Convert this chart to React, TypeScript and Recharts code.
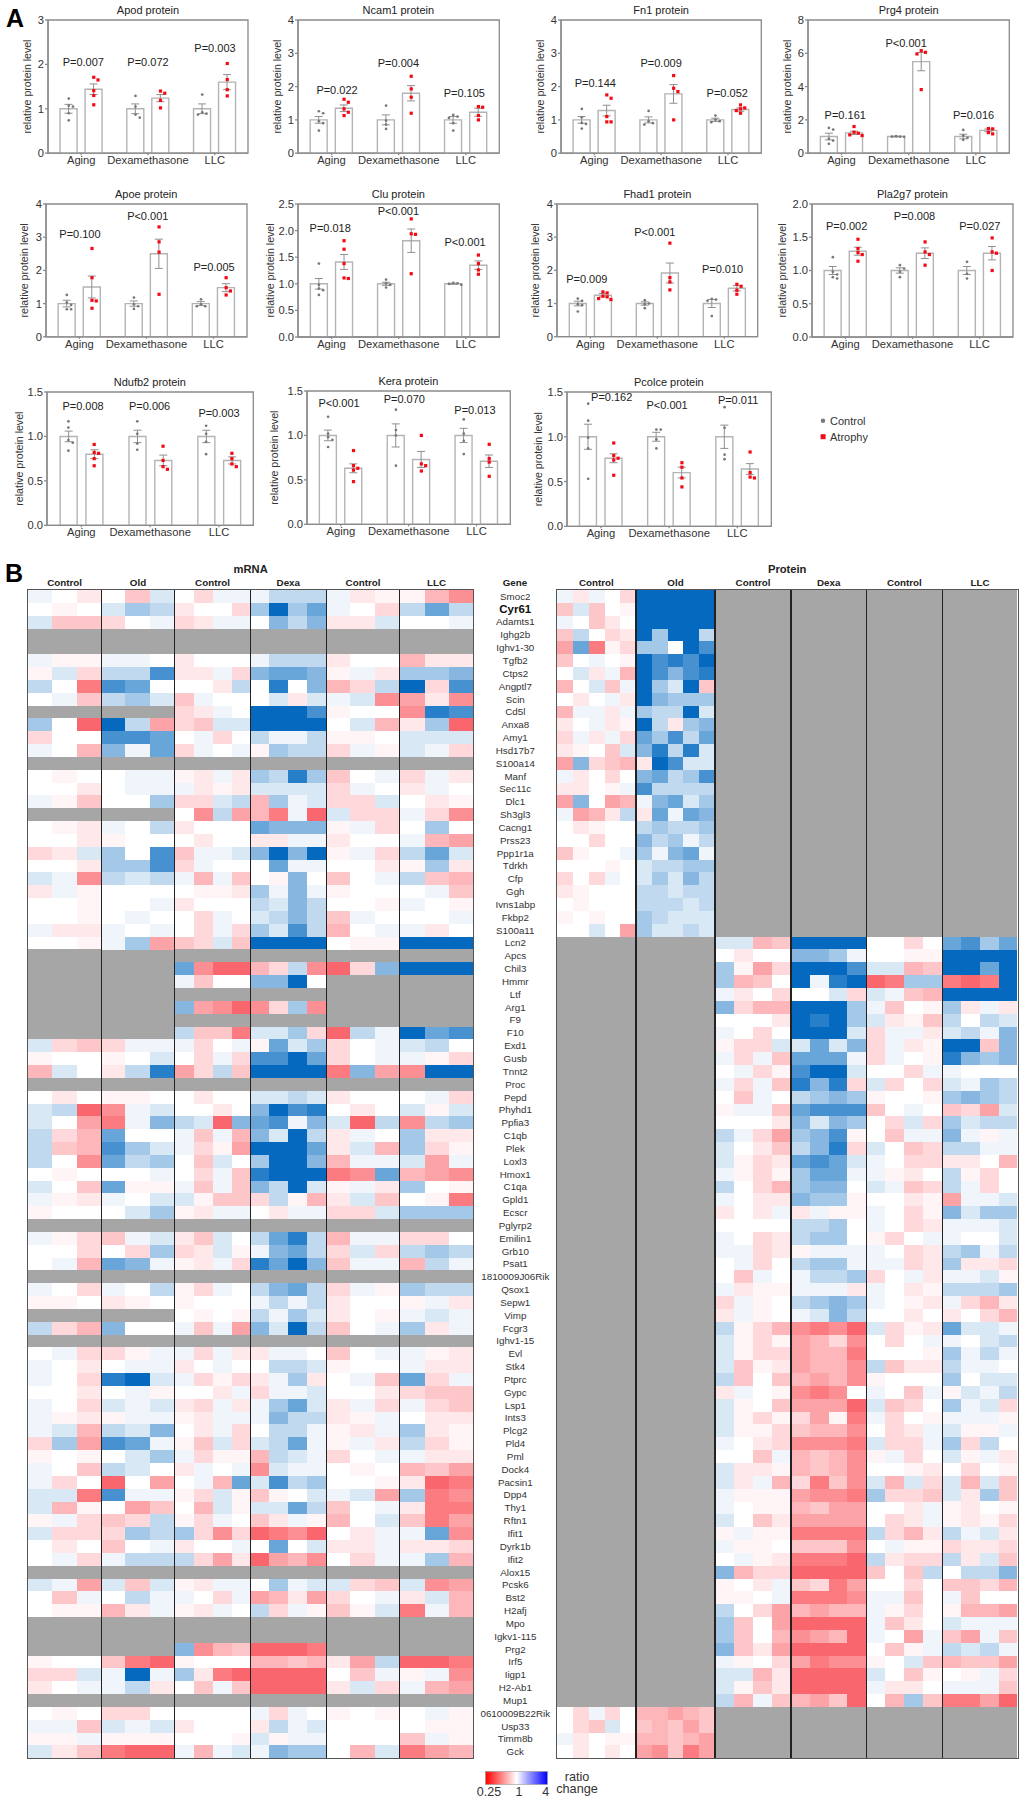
import React from "react";
import { ComposedChart, BarChart, Bar, Cell, Scatter, ErrorBar, XAxis, YAxis, ReferenceArea, ReferenceDot, Rectangle } from "recharts";

const FONT = "'Liberation Sans', Arial, sans-serif";
const groupNames = ["Aging", "Dexamethasone", "LLC"];

// ---- panel A values: [aging control, aging atrophy, dexa control, dexa atrophy, LLC control, LLC atrophy]
const apodMeans = [1, 1.44, 1, 1.24, 1, 1.6];
const apodErrs = [0.1, 0.12, 0.11, 0.08, 0.11, 0.17];
const apodPoints = [[1.23, 1.07, 1.05, 0.9, 0.74], [1.71, 1.65, 1.41, 1.3, 1.09], [1.29, 1.05, 0.87, 0.8], [1.4, 1.35, 1.19, 1.02], [1.32, 0.92, 0.87, 0.89], [2.02, 1.66, 1.43, 1.29]];
const apodP = [["P=0.007", 1.41, 2.06], ["P=0.072", 4.0, 2.05], ["P=0.003", 6.68, 2.37]];

const ncam1Means = [1, 1.35, 1, 1.8, 1, 1.23];
const ncam1Errs = [0.1, 0.1, 0.15, 0.23, 0.1, 0.12];
const ncam1Points = [[1.26, 1.2, 0.96, 0.9, 0.68], [1.62, 1.53, 1.33, 1.23, 1.13], [1.43, 0.98, 0.86, 0.73], [2.31, 1.93, 1.68, 1.2], [1.15, 1.1, 1.06, 0.9, 0.68], [1.4, 1.38, 1.13, 1.0]];
const ncam1P = [["P=0.022", 1.55, 1.88], ["P=0.004", 3.99, 2.72], ["P=0.105", 6.61, 1.8]];

const fn1Means = [1, 1.28, 1, 1.78, 1, 1.31];
const fn1Errs = [0.1, 0.16, 0.09, 0.28, 0.05, 0.05];
const fn1Points = [[1.33, 1.08, 0.91, 0.88, 0.74], [1.75, 1.65, 1.1, 0.94, 0.94], [1.27, 0.96, 0.9, 0.86], [2.33, 1.95, 1.85, 1.0], [1.13, 1.01, 0.96, 0.93], [1.45, 1.36, 1.33, 1.28, 1.2]];
const fn1P = [["P=0.144", 1.37, 2.11], ["P=0.009", 4.0, 2.72], ["P=0.052", 6.64, 1.8]];

const prg4Means = [1, 1.22, 1, 5.5, 1, 1.37];
const prg4Errs = [0.2, 0.1, 0.02, 0.55, 0.14, 0.08];
const prg4Points = [[1.52, 1.42, 0.86, 0.76, 0.56], [1.6, 1.26, 1.2, 1.1, 1.06], [1, 1, 0.98, 1.02], [6.16, 6.06, 5.96, 3.82], [1.4, 1.06, 0.92, 0.8], [1.48, 1.46, 1.24, 1.16]];
const prg4P = [["P=0.161", 1.48, 2.3], ["P<0.001", 3.9, 6.62], ["P=0.016", 6.58, 2.3]];

const apoeMeans = [1, 1.5, 1, 2.5, 1, 1.48];
const apoeErrs = [0.1, 0.33, 0.08, 0.44, 0.06, 0.12];
const apoePoints = [[1.26, 1.03, 0.96, 0.83, 0.83], [2.66, 1.78, 1.1, 1.08, 0.86], [1.18, 0.98, 0.92, 0.84], [3.31, 2.86, 2.55, 1.28], [1.13, 0.98, 0.92, 0.92], [1.78, 1.48, 1.38, 1.26]];
const apoeP = [["P=0.100", 1.35, 3.08], ["P<0.001", 4.05, 3.63], ["P=0.005", 6.69, 2.1]];

const cluMeans = [1, 1.41, 1, 1.81, 1, 1.35];
const cluErrs = [0.1, 0.14, 0.03, 0.22, 0.01, 0.08];
const cluPoints = [[1.38, 0.98, 0.91, 0.88, 0.79], [1.81, 1.65, 1.38, 1.11, 1.1], [1.08, 1.01, 0.98, 0.93], [2.22, 1.94, 1.93, 1.19], [1.01, 1.0, 0.98, 1.02], [1.54, 1.38, 1.26, 1.18]];
const cluP = [["P=0.018", 1.28, 2.05], ["P<0.001", 3.99, 2.37], ["P<0.001", 6.64, 1.78]];

const fhad1Means = [1, 1.25, 1, 1.92, 1, 1.46];
const fhad1Errs = [0.07, 0.05, 0.05, 0.3, 0.12, 0.08];
const fhad1Points = [[1.15, 1.08, 0.98, 0.95, 0.76], [1.35, 1.32, 1.22, 1.2, 1.15, 1.12], [1.1, 1, 0.98, 0.86], [2.82, 1.78, 1.65, 1.41], [1.14, 1.12, 1.08, 0.62], [1.58, 1.52, 1.4, 1.28]];
const fhad1P = [["P=0.009", 1.19, 1.75], ["P<0.001", 3.9, 3.15], ["P=0.010", 6.6, 2.03]];

const pla2g7Means = [1, 1.29, 1, 1.26, 1, 1.26];
const pla2g7Errs = [0.06, 0.06, 0.04, 0.08, 0.06, 0.1];
const pla2g7Points = [[1.2, 0.98, 0.94, 0.9, 0.88], [1.47, 1.33, 1.27, 1.24, 1.14], [1.08, 1.03, 0.98, 0.9], [1.43, 1.28, 1.24, 1.08], [1.13, 0.95, 0.88], [1.49, 1.28, 1.26, 1.0]];
const pla2g7P = [["P=0.002", 1.38, 1.67], ["P=0.008", 4.08, 1.82], ["P=0.027", 6.68, 1.67]];

const ndufb2Means = [1, 0.8, 1, 0.73, 1, 0.73];
const ndufb2Errs = [0.06, 0.05, 0.07, 0.06, 0.07, 0.04];
const ndufb2Points = [[1.17, 1.1, 0.96, 0.93, 0.84], [0.91, 0.82, 0.81, 0.75, 0.67], [1.17, 1.03, 0.92, 0.85], [0.89, 0.73, 0.66, 0.63], [1.12, 1.03, 0.94, 0.8], [0.81, 0.75, 0.69, 0.66]];
const ndufb2P = [["P=0.008", 1.4, 1.34], ["P=0.006", 3.98, 1.34], ["P=0.003", 6.67, 1.26]];

const keraMeans = [1, 0.63, 1, 0.73, 1, 0.71];
const keraErrs = [0.06, 0.05, 0.13, 0.09, 0.08, 0.07];
const keraPoints = [[1.21, 1.02, 0.98, 0.95, 0.87], [0.83, 0.66, 0.63, 0.61, 0.48], [1.29, 1.06, 1, 0.66], [1.0, 0.68, 0.66, 0.6], [1.18, 1.02, 0.94, 0.79], [0.9, 0.74, 0.7, 0.54]];
const keraP = [["P<0.001", 1.26, 1.36], ["P=0.070", 3.83, 1.41], ["P=0.013", 6.61, 1.28]];

const pcolceMeans = [1, 0.76, 1, 0.6, 1, 0.64];
const pcolceErrs = [0.14, 0.05, 0.05, 0.06, 0.13, 0.06];
const pcolcePoints = [[1.37, 1.18, 0.99, 0.87, 0.53], [0.93, 0.79, 0.76, 0.74, 0.57], [1.08, 1.08, 0.97, 0.87], [0.71, 0.66, 0.54, 0.44], [1.33, 1.1, 0.8, 0.75], [0.83, 0.6, 0.55, 0.54]];
const pcolceP = [["P=0.162", 1.75, 1.44], ["P<0.001", 3.92, 1.35], ["P=0.011", 6.7, 1.41]];

const panels = [
  { title: "Apod protein", means: apodMeans, errs: apodErrs, points: apodPoints, p: apodP, ticks: [0, 1, 2, 3], L: 48, R: 248, T: 19.5, B: 152.7, lab: 20 },
  { title: "Ncam1 protein", means: ncam1Means, errs: ncam1Errs, points: ncam1Points, p: ncam1P, ticks: [0, 1, 2, 3, 4], L: 297.7, R: 499, T: 19.5, B: 152.7, lab: 19.5 },
  { title: "Fn1 protein", means: fn1Means, errs: fn1Errs, points: fn1Points, p: fn1P, ticks: [0, 1, 2, 3, 4], L: 561, R: 761.3, T: 19.5, B: 152.7, lab: 20 },
  { title: "Prg4 protein", means: prg4Means, errs: prg4Errs, points: prg4Points, p: prg4P, ticks: [0, 2, 4, 6, 8], L: 808, R: 1009.3, T: 19.5, B: 152.7, lab: 20 },
  { title: "Apoe protein", means: apoeMeans, errs: apoeErrs, points: apoePoints, p: apoeP, ticks: [0, 1, 2, 3, 4], L: 45.7, R: 246.7, T: 203.5, B: 336.3, lab: 20.7 },
  { title: "Clu protein", means: cluMeans, errs: cluErrs, points: cluPoints, p: cluP, ticks: [0, 0.5, 1, 1.5, 2, 2.5], L: 297.7, R: 499, T: 204, B: 337, lab: 27 },
  { title: "Fhad1 protein", means: fhad1Means, errs: fhad1Errs, points: fhad1Points, p: fhad1P, ticks: [0, 1, 2, 3, 4], L: 557, R: 757.7, T: 204, B: 336.7, lab: 20.7 },
  { title: "Pla2g7 protein", means: pla2g7Means, errs: pla2g7Errs, points: pla2g7Points, p: pla2g7P, ticks: [0, 0.5, 1, 1.5, 2], L: 812, R: 1013, T: 204, B: 337, lab: 29 },
  { title: "Ndufb2 protein", means: ndufb2Means, errs: ndufb2Errs, points: ndufb2Points, p: ndufb2P, ticks: [0, 0.5, 1, 1.5], L: 46.7, R: 253, T: 391.7, B: 525, lab: 26.7 },
  { title: "Kera protein", means: keraMeans, errs: keraErrs, points: keraPoints, p: keraP, ticks: [0, 0.5, 1, 1.5], L: 306.7, R: 510, T: 390.7, B: 524, lab: 31.7 },
  { title: "Pcolce protein", means: pcolceMeans, errs: pcolceErrs, points: pcolcePoints, p: pcolceP, ticks: [0, 0.5, 1, 1.5], L: 566.7, R: 771, T: 391.7, B: 526, lab: 28 },
];

// ---- panel B
const genes = ["Smoc2","Cyr61","Adamts1","Ighg2b","Ighv1-30","Tgfb2","Ctps2","Angptl7","Scin","Cd5l","Anxa8","Amy1","Hsd17b7","S100a14","Manf","Sec11c","Dlc1","Sh3gl3","Cacng1","Prss23","Ppp1r1a","Tdrkh","Cfp","Ggh","Ivns1abp","Fkbp2","S100a11","Lcn2","Apcs","Chil3","Hmmr","Ltf","Arg1","F9","F10","Exd1","Gusb","Tnnt2","Proc","Pepd","Phyhd1","Ppfia3","C1qb","Plek","Loxl3","Hmox1","C1qa","Gpld1","Ecscr","Pglyrp2","Emilin1","Grb10","Psat1","1810009J06Rik","Qsox1","Sepw1","Vimp","Fcgr3","Ighv1-15","Evl","Stk4","Ptprc","Gypc","Lsp1","Ints3","Plcg2","Pld4","Pml","Dock4","Pacsin1","Dpp4","Thy1","Rftn1","Ifit1","Dyrk1b","Ifit2","Alox15","Pcsk6","Bst2","H2afj","Mpo","Igkv1-115","Prg2","Irf5","Iigp1","H2-Ab1","Mup1","0610009B22Rik","Usp33","Timm8b","Gck"];

// one string per gene, one token per sample group. digits 1-9 = rising blue, a-i = rising red, 0 = white, "-" = no data
const mrnaRows = [
"10b 0d2 0c11 1333 1ba aeg","0a0 243 b00c 4946 10c 363","2dd c01 cb11 0535 bb2 001","- - - - - -","- - - - - -",
"1aa 110 b000 1333 b00 ebb","a2c 337 bb1c 5665 a1b 445","30h 760 00b3 0805 ec3 9c7","01d 342 d100 02b2 12g fbg","- - cb10 9997 a00 g87",
"40i 93f cd22 9999 02e b4i","c00 776 01c0 3113 aa0 222","10e 516 c101 a433 c1a 21c","- - - - - -","0a0 011 ab1b 4384 d01 c1b",
"00b 011 1bab 2222 c10 b10","1ad 004 cc23 e412 cc2 0ba","- - 0g3f eh1i 2cc 1cg","0ab 103 b000 6555 a1c 040","00b a00 0b00 bb11 b00 1ef",
"cb2 407 d112 5959 a1c 362","00b 447 c100 0611 00b a4b","21g 323 1e1d 0a50 d01 3de","b1a 000 0aab 4151 a00 01d","00a 001 b000 3253 00a 10a",
"00a 010 0c10 2353 d10 001","1bb 101 0c1c 4273 e01 1b0","00a 14f dc2d 9999 0aa 999","- - - - - -","- - 6gii ec3g ic5 999",
"- - 1d00 5590 - -","- - - - - -","- - 5fgi gc4g - -","- - - - - -","- - 3ddh 224c i31 967",
"2cd c11 1c01 a624 c01 230","a00 a02 0c1c 7796 c01 1ac","e20 b38 fc3d 9999 h5f g99","- - - - - -","0b0 aa0 0b00 2232 b00 01c",
"23i g12 00b0 5978 0b0 2a2","20f h15 32i5 6715 2i3 g34","3ce 600 1d1e 5293 b10 4bb","3de 742 1caf 9996 b2e 4ca","30g 634 0d20 4995 e11 2f1",
"0a0 001 0c1d 8999 hg6 efg","20d 6aa 1d1d 5392 a1b 40a","1ab 102 2add c3ae b2d 0ah","a00 024 ab11 0b11 cc2 444","- - - - - -",
"1ac d12 bd20 3683 e11 cc0","00c 0c4 cb2a 1563 c2c 343","01e 651 ab1c 8695 d11 e31","- - - - - -","10c 103 ac10 3563 c1a 433",
"aa0 ba0 a000 1313 b00 a1b","- - 0a0a 3142 b0a 121","3ce 500 1d1f 5293 d01 4b1","- - - - - -","01c ca1 1c1b b110 d01 1ab",
"10b 011 b010 0332 a00 1bb","10c 892 1cac b14b 01d 6c1","00b 01a 00b1 c112 00b cdd","10c 212 bc1b 1462 b1c 1cd","1ab a11 ab11 1533 ba1 0bb",
"12e 325 0b1c 0331 ab1 4ba","c4f 761 ad2c 2361 a1b 3ca","a0a 024 1caa e321 c01 1bb","10d 320 b101 g211 0a0 edf","1c0 i0f 01e6 2734 00a bih",
"22h 711 ac2a da02 12f 4hg","2ea 0fd 0e2a 2263 d01 bhh","a1c dc3 ac10 db1a e02 dhf","2cc c43 4cgc ihgi 0b1 16g","0b0 d01 b001 0602 bb1 bbc",
"01c 133 3cfb ifeg 0c1 14e","- - - - - -","21f 2d2 ab11 0412 2cd 2gf","0d1 031 10c1 febf c01 b2e","0aa eb1 ab10 3c1a da2 h1e",
"- - - - - -","- - - - - -","- - 5ged iiih - -","a00 dhi a000 eede bf3 iih","cc2 191 4bhi iiii 0d1 a1g",
"b01 13b 0d1d iiii b2c 1ef","- - - - - -","0a0 cc0 0000 1c10 a0a 01a","11d 212 b000 b312 000 0aa","aa1 aaa 000a 2a11 000 d1a","2bd hii 1e12 1544 0e2 hfe",
];

const proteinRows = [
"1b10c 99999 - - - -","d2d0a 99999 - - - -","10db0 99999 - - - -","d30cb 94993 - - - -","f6hac 44097 - - - -",
"d010a 97879 - - - -","02b1e 97578 - - - -","e02d1 9429d - - - -","0b01b 95444 - - - -","e11b1 43392 - - - -",
"b01ba 93b45 - - - -","c1b1c 64736 - - - -","ba0d2 58382 - - - -","f5cde b9722 - - - -","1b0c0 56347 - - - -",
"bb0a1 73333 - - - -","f50fe 15624 - - - -","1feb3 b6165 - - - -","0ba00 34334 - - - -","00c00 53413 - - - -",
"da001 41561 - - - -","000a0 23344 - - - -","c0c10 24253 - - - -","ba000 33233 - - - -","0a000 33323 - - - -",
"a0a00 43222 - - - -","0020f 42232 - - - -","- - 22ed 9999 00c0 6746","- - 0b00 5541 00aa 9999","- - 4afc 9997 22ed 9969",
"- - 4ed0 9189 ih44 hih9","- - 1b0c 002c 21de 9999","- - 5cee 9994 1d0a 4b1b","- - 000b 9894 2bad 3032","- - 10c0 9992 c11b 2315",
"- - acc2 2625 c1ba 99d5","- - 1c1d 6661 c10a 8545","- - 01ca 7992 00c1 1000","- - 1c1d 858c 2c0c 2143","- - 0d10 3454 a00a 4543",
"- - a11d 6777 d010 dcf2","- - 000b 5254 0c2c 4233","- - 31cf 457a 0d11 51a1","- - 20bd 358c 20dc 3311","- - 2acb 6762 10cc bb0e",
"- - 1aca 4661 1ab0 3ac0","- - 30ce 4550 21dc 31c0","- - 10bb 544a 00ba f112","- - b0b1 b1aa 10ca 5244","- - 0000 3340 10cb 1112",
"- - 10cb 3440 ac01 1002","- - 11cb a111 10cb 3413","- - 01c0 3441 11cb 4bbc","- - 0d10 1334 c01b 112a","- - 1baa 111b 10ba 3334",
"- - c1a0 3454 10ab 1ceb","- - b1a0 1253 00b0 b0ce","- - 3ace ghgi 2cab 6221","- - 2aca fecg 0c01 1023","- - 2acc feeh 000a 4131",
"- - 2dab feeg 3dbb 3110","- - 3d0d efeg a000 4022","- - b10a ghg0 10d1 a213","- - 2a0d fffi 2dc0 412c","- - 2aca cfah 1c0a 111a",
"- - 2aac deeg 0cb1 2aa1","- - 10bc gggh 2cc1 4c30","- - 00d1 edeg a1c0 2a1b","- - 2bba edeg 00ab 0c0a","- - 2b1e chdg 2e2c 2e2d",
"- - 1aaa fggh 4ccd 2b4d","- - 10aa edff 00b1 ab0a","- - 20db ffff 0cb1 abac","- - a1aa hhhh 3ceb 312b","- - 1aa0 dddg 01aa cbbc",
"- - 01ab hhhi 3bcc 3b2d","- - 5ecc iiii d0d3 0335","- - a0b1 dchf 00c0 ddce","- - aa01 hhhg 11d0 1d00","- - 30cf efee 1ac0 aeef",
"- - 4d0f iiii 1db0 2111","- - 4d0e gfei 10f1 df1d","- - 5dbf iiii 0da1 3231","- - 1a0c fhgg a02d eddf","- - 22eb iiii 20da 0a1c",
"- - 2adb iiii 1bb0 111d","- - 3e1d efdi 0e4d hhfi","0c1c0 eefed - - - -","0cd20 dedfd - - - -","1b0aa eedef - - - -","0b0b0 fgdhf - - - -",
];

const panelGroups = {
  mrna: { names: ["Control", "Old", "Control", "Dexa", "Control", "LLC"], cols: [3, 3, 4, 4, 3, 3], edges: [28, 101.3, 174.7, 250.3, 326.3, 399.7, 473.3] },
  protein: { names: ["Control", "Old", "Control", "Dexa", "Control", "LLC"], cols: [5, 5, 4, 4, 4, 4], edges: [556.7, 636, 715, 791, 866.3, 942.3, 1017.7] },
};
const HEAT_TOP = 590;
const HEAT_BOTTOM = 1758.3;

const charLevel = (ch: string): number => {
  if (ch >= "0" && ch <= "9") return Number(ch) / 9;
  return -(ch.charCodeAt(0) - 96) / 9;
};
const mix = (a: number[], t: number) => `rgb(${a.map((c) => Math.round(255 + (c - 255) * t)).join(",")})`;
const heatColor = (v: number | null) => {
  if (v === null) return "#A6A6A6";
  const t = Math.pow(Math.abs(v), 1.25);
  return v >= 0 ? mix([5, 105, 192], t) : mix([250, 102, 109], t);
};
const parseGroup = (rows: string[], g: number, n: number): (number | null)[][] =>
  rows.map((r) => {
    const tok = r.split(" ")[g];
    return tok === "-" ? Array(n).fill(null) : tok.split("").map(charLevel);
  });

const Txt = ({ x, y, s, b, c = "#222", children, a = "center" }: any) => (
  <div style={{ position: "absolute", left: x, top: y, transform: a === "center" ? "translate(-50%,-50%)" : "translate(0,-50%)", fontSize: s, fontWeight: b ? 700 : 400, color: c, fontFamily: FONT, whiteSpace: "nowrap", lineHeight: 1 }}>{children}</div>
);

const AXIS = "#8a8a8a";

// simple swarm: points that would overlap are pushed sideways
const swarm = (ys: number[], pxPerUnit: number) => {
  const placed: { y: number; o: number }[] = [];
  [...ys].sort((a, b) => b - a).forEach((y) => {
    const o = [0, 0.17, -0.17, 0.32, -0.32].find((c) => placed.every((p) => Math.abs(p.y - y) * pxPerUnit > 3.4 || Math.abs(p.o - c) > 0.14));
    placed.push({ y, o: o ?? 0 });
  });
  return placed;
};

const GrayDot = (p: any) => <circle cx={p.cx} cy={p.cy} r={1.35} fill="#787878" />;
const RedDot = (p: any) => <rect x={p.cx - 1.6} y={p.cy - 1.6} width={3.2} height={3.2} fill="#f40a14" />;
const BarShape = (p: any) => <Rectangle {...p} x={p.x + p.width / 2 - 8.5} width={17} />;

function BarPanel({ panel }: any) {
  const { title, means, errs, points, p, ticks, L, R, T, B, lab } = panel;
  const ymax = ticks[ticks.length - 1];
  const axisW = 40, top = 8, bottom = 22, right = 6;
  const pos = (i: number) => Math.floor(i / 2) * 2.67 + (i % 2) + 0.83;
  const bars = means.map((m: number, i: number) => ({ x: pos(i), mean: m, err: errs[i] }));
  const pxPerUnit = (B - T) / ymax;
  const ptSet = (odd: number) => points.flatMap((ys: number[], i: number) =>
    i % 2 === odd ? swarm(ys, pxPerUnit).map((q) => ({ x: pos(i) + q.o, y: q.y })) : []);
  const fmt = (v: number) => (ticks.some((t: number) => t % 1 !== 0) ? v.toFixed(1) : String(v));
  return (
    <>
      <div style={{ position: "absolute", left: L - axisW, top: T - top }}>
        <ComposedChart width={R - L + axisW + right} height={B - T + top + bottom} data={bars} margin={{ top, right, bottom: 0, left: 0 }} style={{ overflow: "visible" }}>
          <XAxis dataKey="x" type="number" domain={[0, 8]} ticks={[1.33, 4, 6.67]} tickFormatter={(_v: number, i: number) => groupNames[i]} interval={0}
            height={bottom} tick={{ fontSize: 11.2, fill: "#333", fontFamily: FONT }} tickSize={2} tickMargin={1} stroke={AXIS} strokeWidth={1.3} />
          <YAxis type="number" domain={[0, ymax]} ticks={ticks} tickFormatter={fmt} width={axisW} interval={0} allowDataOverflow
            tick={{ fontSize: 11.2, fill: "#333", fontFamily: FONT }} tickSize={3} tickMargin={1} stroke={AXIS} strokeWidth={1.3}
            label={{ value: "relative protein level", angle: -90, position: "insideLeft", offset: axisW - lab - 1, style: { textAnchor: "middle", fontSize: 10.6, fill: "#333", fontFamily: FONT } }} />
          <ReferenceArea x1={0} x2={8} y1={0} y2={ymax} fill="none" stroke={AXIS} strokeWidth={1.3} />
          <Bar dataKey="mean" fill="#fff" stroke="#b4b4b4" strokeWidth={1.4} shape={BarShape} isAnimationActive={false}>
            <ErrorBar dataKey="err" width={4} stroke="#909090" strokeWidth={1} isAnimationActive={false} />
          </Bar>
          <Scatter data={ptSet(0)} dataKey="y" shape={GrayDot} isAnimationActive={false} />
          <Scatter data={ptSet(1)} dataKey="y" shape={RedDot} isAnimationActive={false} />
          {p.map((t: any, i: number) => (
            <ReferenceDot key={i} x={t[1]} y={t[2]} r={0} stroke="none" fill="none" ifOverflow="visible"
              label={{ value: t[0], position: "center", fontSize: 11, fill: "#222", fontFamily: FONT }} />
          ))}
        </ComposedChart>
      </div>
      <Txt x={(L + R) / 2} y={T - 10} s={11}>{title}</Txt>
    </>
  );
}

const GeneTick = (cx: number) => (p: any) => {
  const bold = p.payload.value === "Cyr61";
  return (
    <text x={cx} y={p.y} dy={3.4} textAnchor="middle" fontFamily={FONT} fontSize={bold ? 11.5 : 9.8} fontWeight={bold ? 700 : 400} fill={bold ? "#111" : "#333"}>
      {p.payload.value}
    </text>
  );
};

function HeatGroup({ rows, g, n, x0, x1, labels }: any) {
  const vals = parseGroup(rows, g, n);
  const cols = Array.from({ length: n }, (_, c) => c);
  const data = genes.map((gene) => {
    const e: any = { gene };
    cols.forEach((c) => (e["c" + c] = 1));
    return e;
  });
  const axisW = labels ? 80 : 0;
  return (
    <div style={{ position: "absolute", left: x0 - axisW, top: HEAT_TOP, shapeRendering: "crispEdges" } as any}>
      <BarChart width={x1 - x0 + axisW} height={HEAT_BOTTOM - HEAT_TOP} layout="vertical" data={data} barCategoryGap={0} barGap={0} margin={{ top: 0, right: 0, bottom: 0, left: 0 }} style={{ overflow: "visible" }}>
        <XAxis type="number" domain={[0, n]} hide />
        <YAxis type="category" dataKey="gene" hide={!labels} width={axisW} interval={0} axisLine={false} tickLine={false} tick={labels ? GeneTick(515 - (x0 - axisW)) : false} />
        {cols.map((c) => (
          <Bar key={c} dataKey={"c" + c} stackId="s" isAnimationActive={false}>
            {vals.map((r, j) => <Cell key={j} fill={heatColor(r[c])} />)}
          </Bar>
        ))}
      </BarChart>
    </div>
  );
}

function HeatPanel({ rows, cfg, labels, title }: any) {
  const { names, cols, edges } = cfg;
  return (
    <>
      {cols.map((n: number, g: number) => (
        <HeatGroup key={g} rows={rows} g={g} n={n} x0={edges[g]} x1={edges[g + 1]} labels={labels && g === 0} />
      ))}
      <div style={{ position: "absolute", left: edges[0] - 1, top: HEAT_TOP - 1, width: edges[6] - edges[0], height: HEAT_BOTTOM - HEAT_TOP, border: "1.5px solid #555" }} />
      {edges.slice(1, 6).map((e: number, i: number) => (
        <div key={i} style={{ position: "absolute", left: e - 0.7, top: HEAT_TOP, width: 1.4, height: HEAT_BOTTOM - HEAT_TOP, background: "#222" }} />
      ))}
      {names.map((nm: string, g: number) => (
        <Txt key={g} x={(edges[g] + edges[g + 1]) / 2} y={583} s={9.8} b>{nm}</Txt>
      ))}
      <Txt x={(edges[0] + edges[6]) / 2} y={569.5} s={11.2} b>{title}</Txt>
    </>
  );
}

export default function App() {
  return (
    <div style={{ position: "absolute", left: 0, top: 0, width: 1024, height: 1800, background: "#fff", overflow: "hidden" }}>
      <Txt x={15} y={18} s={25} b c="#000">A</Txt>
      <Txt x={14} y={573} s={25} b c="#000">B</Txt>
      {panels.map((p) => <BarPanel key={p.title} panel={p} />)}

      <svg style={{ position: "absolute", left: 818, top: 414 }} width={12} height={28}>
        <circle cx={5} cy={6.7} r={2.2} fill="#787878" />
        <rect x={2.6} y={20.2} width={5} height={5} fill="#f40a14" />
      </svg>
      <Txt x={830} y={421} s={11} a="left" c="#333">Control</Txt>
      <Txt x={830} y={437} s={11} a="left" c="#333">Atrophy</Txt>

      <HeatPanel rows={mrnaRows} cfg={panelGroups.mrna} title="mRNA" />
      <HeatPanel rows={proteinRows} cfg={panelGroups.protein} labels title="Protein" />
      <Txt x={515} y={583} s={9.8} b>Gene</Txt>

      <svg style={{ position: "absolute", left: 485, top: 1770.5 }} width={63} height={14}>
        <defs>
          <linearGradient id="ratioGrad" x1="0" x2="1" y1="0" y2="0">
            <stop offset="0" stopColor="#ff0000" />
            <stop offset="0.5" stopColor="#ffffff" />
            <stop offset="1" stopColor="#0000ff" />
          </linearGradient>
        </defs>
        <rect x={0.5} y={0.5} width={62} height={13} fill="url(#ratioGrad)" stroke="#999" strokeWidth={0.6} />
      </svg>
      <Txt x={489} y={1792} s={12.5} c="#333">0.25</Txt>
      <Txt x={519} y={1792} s={12.5} c="#333">1</Txt>
      <Txt x={545.7} y={1792} s={12.5} c="#333">4</Txt>
      <Txt x={577} y={1777} s={12.7} c="#333">ratio</Txt>
      <Txt x={577} y={1788.5} s={12.7} c="#333">change</Txt>
    </div>
  );
}
